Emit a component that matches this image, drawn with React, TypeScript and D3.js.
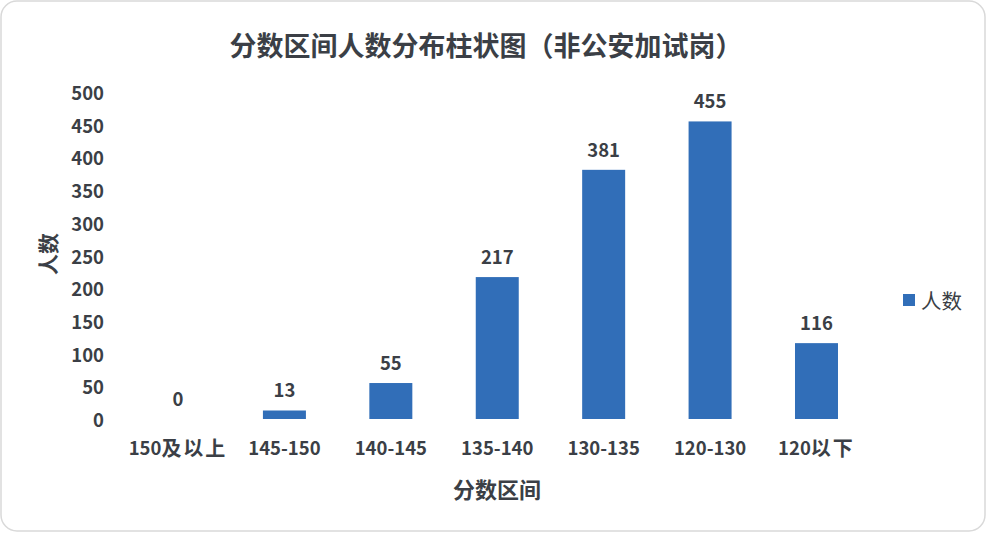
import * as React from 'react'
import * as d3 from 'd3'

const categories = ['150及以上', '145-150', '140-145', '135-140', '130-135', '120-130', '120以下']
const counts = [0, 13, 55, 217, 381, 455, 116]
const yTicks = [0, 50, 100, 150, 200, 250, 300, 350, 400, 450, 500]

const W = 987
const H = 533
const FONT = '"Noto Sans CJK SC", "Noto Sans", sans-serif'
const TEXT = '#3b3f46'
const BAR = '#316eb8'

// split label so CJK chars can be drawn a bit wider, like the source font
function label(s: string) {
  const parts = s.match(/[0-9\-]+|[^0-9\-]+/g) || [s]
  return parts.map((p, i) =>
    /[0-9\-]/.test(p)
      ? <tspan key={i}>{p}</tspan>
      : <tspan key={i} fontSize={20} letterSpacing={2}>{p}</tspan>
  )
}

export default function App() {
  const x = d3.scaleBand<string>()
    .domain(categories)
    .range([124.8, 869.7])
    .paddingInner(0.596)
    .paddingOuter(0.298)

  const y = d3.scaleLinear().domain([0, 500]).range([419, 92])

  return (
    <svg
      width={W}
      height={H}
      style={{ position: 'absolute', left: 0, top: 0, display: 'block', fontFamily: FONT }}
    >
      <rect x={1} y={1} width={W - 3} height={H - 3} rx={16} ry={16}
        fill="#fff" stroke="#d9d9d9" strokeWidth={1.5} />

      {/* title */}
      <text x={486} y={44} textAnchor="middle" dominantBaseline="central"
        fontSize={27} fontWeight={700} fill={TEXT}>
        分数区间人数分布柱状图（非公安加试岗）
      </text>

      {/* y ticks */}
      {yTicks.map(t => (
        <text key={t} x={104} y={y(t)} textAnchor="end" dominantBaseline="central"
          fontSize={18.5} fontWeight={700} fill={TEXT}>{t}</text>
      ))}

      {/* bars */}
      {categories.map((c, i) => (
        <g key={c}>
          <rect x={x(c)} y={y(counts[i])} width={x.bandwidth()}
            height={y(0) - y(counts[i])} fill={BAR} />
          <text x={(x(c) as number) + x.bandwidth() / 2} y={y(counts[i]) - 21}
            textAnchor="middle" dominantBaseline="central"
            fontSize={18.5} fontWeight={700} fill={TEXT}>{counts[i]}</text>
          <text x={(x(c) as number) + x.bandwidth() / 2} y={447}
            textAnchor="middle" dominantBaseline="central"
            fontSize={18.5} fontWeight={700} fill={TEXT}>{label(c)}</text>
        </g>
      ))}

      {/* axis titles */}
      <text x={497} y={488} textAnchor="middle" dominantBaseline="central"
        fontSize={22} fontWeight={700} fill={TEXT}>分数区间</text>
      <text transform="translate(47,254) rotate(-90)" textAnchor="middle" dominantBaseline="central"
        fontSize={21} fontWeight={700} fill={TEXT}>人数</text>

      {/* legend */}
      <rect x={903} y={294} width={12} height={12} fill={BAR} />
      <text x={921} y={300} dominantBaseline="central" fontSize={20.5} fill={TEXT}>人数</text>
    </svg>
  )
}
